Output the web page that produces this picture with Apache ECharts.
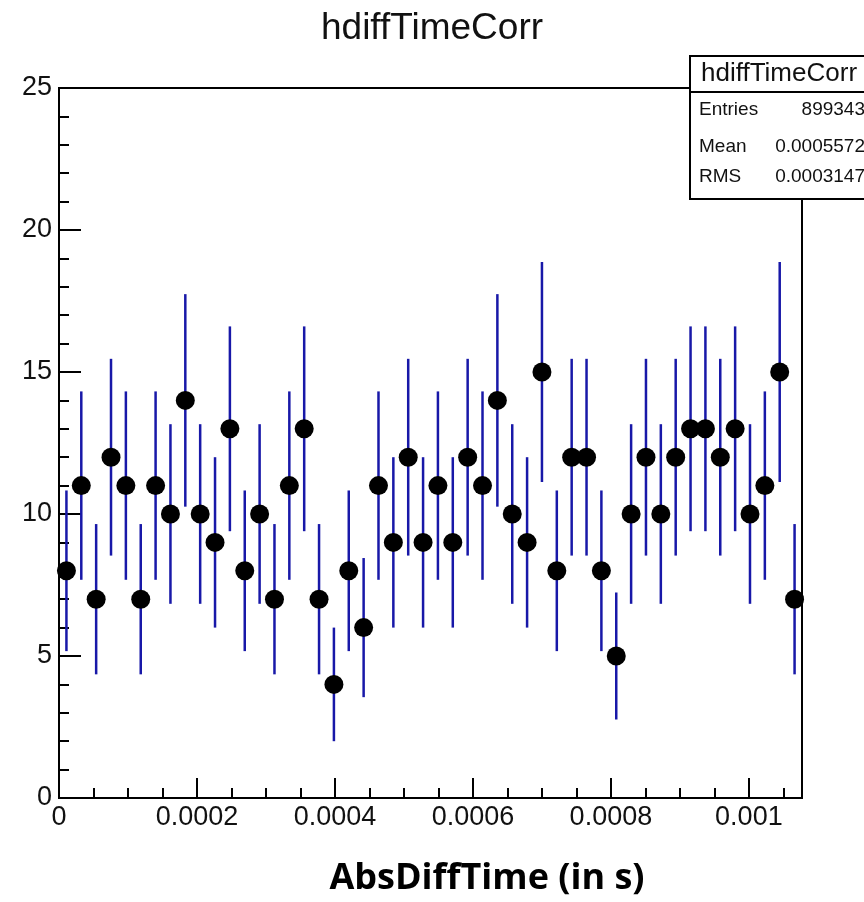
<!DOCTYPE html>
<html>
<head>
<meta charset="utf-8">
<script src="https://cdn.jsdelivr.net/npm/echarts@6/dist/echarts.min.js"></script>
<style>
  html, body { margin: 0; padding: 0; background: #fff; }
  #chart { width: 864px; height: 902px; }
</style>
</head>
<body>
<div id="chart"></div>
<script>
// histogram definition (50 bins from 0 to xMax)
var xMin = 0;
var xMax = 0.001077;
var nBins = 50;

// bin contents
var counts = [
  8, 11, 7, 12, 11, 7, 11, 10, 14, 10,
  9, 13, 8, 10, 7, 11, 13, 7, 4, 8,
  6, 11, 9, 12, 9, 11, 9, 12, 11, 14,
  10, 9, 15, 8, 12, 12, 8, 5, 10, 12,
  10, 12, 13, 13, 12, 13, 10, 11, 15, 7
];

// stats box
var statsTitle = 'hdiffTimeCorr';
var statsNames = ['Entries', 'Mean', 'RMS'];
var statsValues = ['899343', '0.0005572', '0.0003147'];

var binWidth = (xMax - xMin) / nBins;
var points = [];
var bars = [];
for (var i = 0; i < counts.length; i++) {
    var xc = xMin + (i + 0.5) * binWidth;
    var err = Math.sqrt(counts[i]);
    points.push([xc, counts[i]]);
    bars.push([xc, counts[i] - err, counts[i] + err]);
}

var labelFont = 'Liberation Sans, Arial, sans-serif';
var chart = echarts.init(document.getElementById('chart'));

var option = {
    animation: false,
    backgroundColor: '#fff',
    title: {
        text: 'hdiffTimeCorr',
        left: 'center',
        top: 5,
        textStyle: { fontFamily: labelFont, fontSize: 37, fontWeight: 'normal', color: '#111' }
    },
    grid: {
        left: 59, right: 62, top: 88, bottom: 104,
        show: true, borderColor: '#000', borderWidth: 2
    },
    xAxis: [{
        type: 'value',
        position: 'bottom',
        min: xMin, max: xMax, interval: 0.0002,
        axisLine: { show: true, lineStyle: { color: '#000', width: 2 } },
        axisTick: { show: true, inside: true, length: 20, lineStyle: { color: '#000', width: 2 } },
        axisLabel: {
            show: true, margin: 6, showMaxLabel: false,
            fontFamily: labelFont, fontSize: 27, color: '#111'
        },
        splitLine: { show: false }
    }, {
        // minor ticks every 0.00005
        type: 'value',
        position: 'bottom',
        min: xMin, max: xMax, interval: 0.00005,
        axisLine: { show: false },
        axisTick: { show: true, inside: true, length: 10, lineStyle: { color: '#000', width: 2 } },
        axisLabel: { show: false },
        splitLine: { show: false }
    }],
    yAxis: {
        type: 'value',
        min: 0, max: 25, interval: 5,
        axisLine: { show: true, lineStyle: { color: '#000', width: 2 } },
        axisTick: { show: true, inside: true, length: 22, lineStyle: { color: '#000', width: 2 } },
        minorTick: { show: true, splitNumber: 5, length: 10, lineStyle: { color: '#000', width: 2 } },
        axisLabel: { margin: 7, fontFamily: labelFont, fontSize: 27, color: '#111' },
        splitLine: { show: false }
    },
    series: [{
        type: 'custom',
        xAxisIndex: 0,
        data: bars,
        renderItem: function (params, api) {
            var lo = api.coord([api.value(0), api.value(1)]);
            var hi = api.coord([api.value(0), api.value(2)]);
            return {
                type: 'line',
                shape: { x1: lo[0], y1: lo[1], x2: hi[0], y2: hi[1] },
                style: { stroke: '#1818a8', lineWidth: 2.5 }
            };
        },
        z: 2
    }, {
        type: 'scatter',
        xAxisIndex: 0,
        data: points,
        symbol: 'circle',
        symbolSize: 19,
        itemStyle: { color: '#000', opacity: 1 },
        z: 3
    }],
    graphic: [{
        type: 'rect',
        shape: { x: 690, y: 56, width: 200, height: 143 },
        style: { fill: '#fff', stroke: '#000', lineWidth: 2 },
        z: 10
    }, {
        type: 'line',
        shape: { x1: 690, y1: 92, x2: 864, y2: 92 },
        style: { stroke: '#000', lineWidth: 2 },
        z: 11
    }, {
        type: 'text',
        x: 701, y: 74,
        style: { text: statsTitle, font: '26px ' + labelFont, fill: '#111', textVerticalAlign: 'middle' },
        z: 11
    }].concat(statsNames.map(function (name, k) {
        return {
            type: 'text',
            x: 699, y: [110, 147, 177][k],
            style: { text: name, font: '19px ' + labelFont, fill: '#111', textVerticalAlign: 'middle' },
            z: 11
        };
    })).concat(statsValues.map(function (val, k) {
        return {
            type: 'text',
            x: 865, y: [110, 147, 177][k],
            style: { text: val, font: '19px ' + labelFont, fill: '#111', textAlign: 'right', textVerticalAlign: 'middle' },
            z: 11
        };
    })).concat([{
        type: 'text',
        x: 487, y: 879,
        style: {
            text: 'AbsDiffTime (in s)', font: 'bold 36px "Open Sans", sans-serif', fill: '#000',
            textAlign: 'center', textVerticalAlign: 'middle'
        }
    }])
};

chart.setOption(option);
</script>
</body>
</html>
